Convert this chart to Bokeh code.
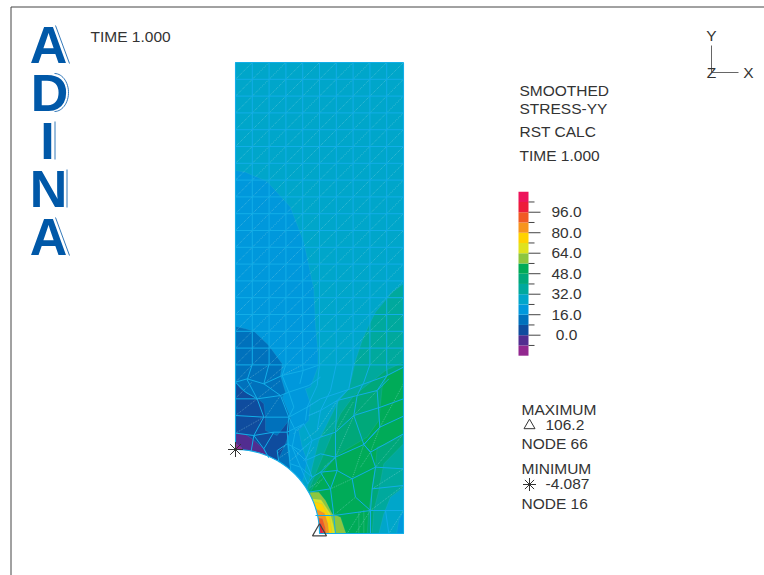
import numpy as np
from bokeh.plotting import figure
from bokeh.models import Range1d
from bokeh.core.properties import value
from bokeh.embed import file_html
from bokeh.resources import INLINE

# ---- colour scale -------------------------------------------------------
band_low = [-16, -8, 0, 8, 16, 24, 32, 40, 48, 56, 64, 72, 80, 88, 96, 104]
band_col = ["#92278F", "#522D90", "#0F4C9E", "#0071BC", "#0098DC", "#00A6CA", "#00A99D", "#00A87A",
            "#00AB58", "#8DC63F", "#DFE21E", "#FFD200", "#F7941E", "#F15A24", "#ED1C3A", "#ED145B"]
tick_major = [96, 80, 64, 48, 32, 16, 0]
tick_labels = ["96.0", "80.0", "64.0", "48.0", "32.0", "16.0", "0.0"]
tick_minor = [104, 88, 72, 56, 40, 24, 8, -8]

# ---- plate geometry in model units --------------------------------------
plate_x = [45, 549, 549, 45]
plate_y = [-774, -774, 639, 639]
hole_x, hole_y, hole_r = 45, 639, 252
grid_x = [45, 95.4, 145.8, 196.2, 246.6, 297, 347.4, 397.8, 448.2, 498.6, 549]
grid_y = [-774, -723.6, -673.2, -622.8, -572.4, -522, -471.6, -421.2, -370.8, -320.4, -270,
          -219.6, -169.2, -118.8, -68.4, -18, 32.4, 82.8, 133.2]

# ---- contour regions, painted in order (band lower value, outline) ------
regions = [
    (32, [(549, -110), (515, -85), (465, -25), (445, 15), (425, 60), (405, 120), (395, 165), (385, 205),
          (355, 240), (320, 310), (295, 360), (285, 400), (275, 440), (260, 505), (250, 650), (549, 650)]),
    (40, [(549, 125), (495, 150), (470, 170), (400, 225), (360, 280), (335, 340), (310, 400), (285, 460),
          (260, 520), (280, 639), (455, 639), (460, 570), (475, 510), (490, 430), (549, 370)]),
    (48, [(549, 140), (500, 165), (485, 200), (475, 300), (440, 350), (355, 400), (320, 440), (290, 480),
          (260, 530), (280, 639), (440, 639), (445, 570), (455, 505), (465, 440), (470, 380), (500, 370),
          (549, 340)]),
    (24, [(549, 500), (510, 530), (490, 580), (475, 639), (549, 639)]),
    (16, [(549, 570), (535, 600), (528, 639), (549, 639)]),
    (16, [(45, -450), (75, -445), (140, -417), (210, -340), (250, -235), (280, -95), (285, 15), (293, 100),
          (292, 140), (270, 200), (255, 205), (270, 250), (265, 300), (235, 330), (245, 380), (260, 420),
          (250, 470), (240, 500), (0, 500), (0, -450)]),
    (8, [(45, 18), (75, 25), (100, 32), (145, 75), (185, 130), (180, 165), (195, 215), (185, 230), (210, 290),
         (205, 330), (200, 370), (210, 445), (0, 445), (0, 18)]),
    (0, [(45, 185), (60, 205), (75, 215), (110, 232), (130, 250), (135, 290), (135, 330), (170, 345), (205, 300),
         (205, 340), (195, 370), (170, 425), (0, 425), (0, 185)]),
    (-8, [(45, 337), (75, 342), (95, 355), (130, 385), (140, 410), (0, 410), (0, 337)]),
    (-16, [(45, 368), (62, 380), (70, 395), (45, 395)]),
    (56, [(270, 515), (295, 515), (315, 540), (335, 580), (360, 590), (375, 635), (378, 639), (280, 639), (260, 540)]),
    (64, [(275, 535), (302, 538), (330, 580), (345, 639), (280, 639)]),
    (72, [(278, 543), (305, 550), (328, 590), (335, 639), (280, 639)]),
    (80, [(285, 565), (312, 578), (322, 610), (325, 639), (285, 639)]),
    (88, [(285, 590), (306, 595), (314, 620), (316, 639), (285, 639)]),
    (96, [(285, 605), (302, 610), (308, 639), (285, 639)]),
    (104, [(285, 620), (296, 622), (302, 639), (285, 639)]),
]

free_mesh = [
    [(549, 140), (500, 165), (390, 205), (300, 235), (260, 260)],
    [(505, 175), (470, 210), (350, 240), (300, 270), (265, 285)],
    [(498, 133), (500, 165), (470, 210), (478, 320), (430, 372)],
    [(448, 133), (430, 185), (410, 225), (400, 285), (430, 372)],
    [(398, 133), (385, 205), (350, 240), (345, 335), (345, 410)],
    [(347, 133), (330, 210), (300, 270), (290, 330)],
    [(297, 133), (290, 195), (260, 260), (255, 300)],
    [(549, 235), (480, 260), (400, 285), (345, 335), (300, 350)],
    [(549, 287), (478, 320), (430, 372), (345, 410), (300, 455)],
    [(549, 340), (450, 395), (430, 372)],
    [(430, 372), (450, 395), (465, 440), (455, 505), (450, 570), (450, 639)],
    [(549, 445), (465, 440), (395, 475), (350, 450), (330, 505), (340, 585), (345, 639)],
    [(549, 495), (455, 505)],
    [(549, 570), (450, 570), (340, 585), (285, 585)],
    [(495, 570), (505, 639)],
    [(395, 475), (405, 530), (450, 570)],
    [(350, 450), (345, 410)],
    [(300, 455), (350, 450)],
    [(300, 455), (330, 505), (265, 515)],
    [(45, 185), (80, 175), (130, 190), (185, 165), (248, 150), (297, 133)],
    [(45, 235), (110, 235), (180, 225), (205, 215), (265, 195), (300, 170)],
    [(45, 285), (130, 290), (205, 290), (260, 260)],
    [(45, 338), (100, 345), (160, 335), (200, 335), (250, 310)],
    [(95, 133), (80, 178), (110, 235), (130, 290), (100, 345), (92, 392)],
    [(145, 133), (130, 190), (180, 225), (205, 290), (200, 335), (210, 445)],
    [(196, 133), (185, 165), (205, 215), (220, 260), (205, 290)],
    [(246, 133), (248, 150), (238, 190)],
    [(45, 185), (75, 215), (110, 235)],
    [(160, 335), (130, 385), (145, 412)],
    [(100, 345), (130, 385)],
    [(205, 290), (225, 330), (215, 380), (240, 440)],
    [(225, 330), (250, 310), (275, 360), (255, 420), (275, 470)],
    [(200, 370), (240, 390), (275, 360), (300, 350)],
    [(215, 380), (255, 420), (300, 400), (345, 410)],
    [(210, 430), (240, 440), (275, 470), (300, 455)],
    [(240, 440), (262, 490), (275, 470)],
    [(170, 390), (200, 370)],
    [(170, 390), (175, 425)],
]
dotted_mesh = [
    [(260, 260), (300, 235)], [(290, 330), (350, 240)], [(345, 335), (398, 245)], [(400, 285), (470, 210)],
    [(478, 320), (549, 190)], [(450, 395), (478, 320)], [(465, 440), (549, 340)], [(455, 505), (549, 445)],
    [(450, 570), (549, 495)], [(505, 639), (549, 570)], [(395, 475), (430, 372)], [(345, 410), (400, 285)],
    [(330, 505), (395, 475)], [(345, 580), (405, 530)], [(405, 639), (450, 570)], [(380, 639), (420, 575)],
    [(415, 639), (415, 575)], [(430, 639), (430, 570)], [(45, 233), (95, 185)], [(45, 285), (110, 235)],
    [(45, 338), (130, 290)], [(95, 133), (45, 185)], [(145, 133), (80, 178)], [(196, 133), (130, 190)],
    [(246, 133), (185, 165)], [(110, 235), (180, 180)], [(135, 290), (180, 225)], [(220, 340), (250, 310)],
    [(230, 400), (265, 370)], [(250, 420), (280, 380)], [(210, 420), (235, 400)], [(285, 500), (310, 470)],
    [(270, 500), (300, 480)], [(300, 350), (345, 300)], [(265, 285), (300, 270)], [(250, 360), (290, 330)],
    [(170, 400), (195, 375)], [(180, 410), (210, 390)], [(310, 440), (345, 410)], [(420, 440), (450, 395)],
]

# ---- page texts ---------------------------------------------------------
logo_letters = ["A", "D", "I", "N", "A"]
logo_x = [48, 49, 47, 48, 48]
logo_y = [44, 92, 140, 188, 236]
left_texts = [("TIME 1.000", 90, 35.5), ("SMOOTHED", 519, 89.5), ("STRESS-YY", 519, 107.5), ("RST CALC", 519, 130.5),
              ("TIME 1.000", 519, 154.5), ("MAXIMUM", 521, 408.5), ("106.2", 545, 424.5), ("NODE 66", 521, 442.5),
              ("MINIMUM", 521, 467.5), ("-4.087", 545, 483.5), ("NODE 16", 521, 502.5)]
ink = "#333333"
blue = "#0058A8"
mesh_col = "#12AEE8"

p = figure(width=764, height=575, output_backend="svg", toolbar_location=None,
           x_range=Range1d(0, 764), y_range=Range1d(575, 0), min_border=0,
           x_axis_type=None, y_axis_type=None, outline_line_color=None,
           margin=(0, 0, 0, 0))
p.grid.visible = False
# model coordinates: 3 units per pixel
p.extra_x_ranges["model"] = Range1d(-660, 1632)
p.extra_y_ranges["model"] = Range1d(765, -960)
# colour-scale values
p.extra_y_ranges["val"] = Range1d((334.7 - 575) / 1.281, 334.7 / 1.281)
M = dict(x_range_name="model", y_range_name="model")

# frame
p.line([10.5, 10.5], [575, 6.5], line_color="#444444", line_width=1)
p.line([10.5, 764], [6.5, 6.5], line_color="#444444", line_width=1)

# plate and contour bands
p.patch(plate_x, plate_y, fill_color=band_col[band_low.index(24)], line_color=None, **M)
for low, pts in regions:
    xs, ys = zip(*pts)
    xs = [min(x, 549) for x in xs]
    xs = [max(x, 45) for x in xs]
    ys = [min(y, 639) for y in ys]
    p.patch(xs, ys, fill_color=band_col[band_low.index(low)], line_color="#45BBD8", line_alpha=0.35,
            line_width=0.5, **M)
p.circle([hole_x], [hole_y], radius=hole_r, fill_color="white", line_color=None, **M)

# dotted diagonals
for i in range(len(grid_x) - 1):
    for j in range(len(grid_y) - 1):
        p.line([grid_x[i], grid_x[i + 1]], [grid_y[j + 1], grid_y[j]], line_color="#A5E0E4", line_alpha=0.55,
               line_dash="1 1", line_width=0.7, **M)
for seg in dotted_mesh:
    xs, ys = zip(*seg)
    p.line(xs, ys, line_color="#A5E0E4", line_alpha=0.55, line_dash="1 1", line_width=0.7, **M)

# regular mesh
for gx in grid_x[:-1]:
    p.line([gx, gx], [-774, 133.2], line_color=mesh_col, line_width=1, **M)
for gy in grid_y:
    p.line([45, 549], [gy, gy], line_color=mesh_col, line_width=1, **M)
# free mesh
for seg in free_mesh:
    xs, ys = zip(*seg)
    p.line(xs, ys, line_color=mesh_col, line_width=1, **M)
p.line([45, 45], [-774, 387], line_color=mesh_col, line_width=1.1, **M)
p.line([549, 549], [-774, 639], line_color=mesh_col, line_width=1.1, **M)
p.line([297, 549], [639, 639], line_color=mesh_col, line_width=1.1, **M)
t = np.linspace(0, np.pi / 2, 60)
p.line(hole_x + hole_r * np.cos(t), hole_y - hole_r * np.sin(t), line_color=mesh_col, line_width=1.1, **M)

# min / max markers
p.scatter([45], [387], marker="asterisk", size=15, line_color="#333333", line_width=1, **M)
p.scatter([297], [634], marker="triangle", size=14, fill_color=None, line_color="#444444", line_width=1.2, **M)

# logo
p.text(logo_x, logo_y, text=logo_letters, text_font=value("Liberation Sans"), text_font_style="bold",
       text_font_size="52px", text_color=blue, text_align="center", text_baseline="middle")
for xs, ys in [([55, 69], [25, 63]), ([54.5, 54.5], [121, 159]), ([66.5, 66.5], [169, 207]),
               ([55, 69], [217, 255])]:
    p.line(xs, ys, line_color=blue, line_width=0.8)
th = np.linspace(-np.pi / 2, np.pi / 2, 30)
p.line(54 + 14 * np.cos(th), 92 + 19 * np.sin(th), line_color=blue, line_width=0.8)

# texts
for s, x, y in left_texts:
    p.text([x], [y], text=[s], text_font=value("Liberation Sans"), text_font_size="15.5px", text_color=ink,
           text_align="left", text_baseline="middle")
p.scatter([529], [425], marker="triangle", size=11, fill_color=None, line_color="#333333", line_width=1)
p.scatter([529], [484], marker="asterisk", size=13, line_color="#333333", line_width=1)

# triad
p.line([711, 711], [45, 72], line_color="#666666", line_width=1)
p.line([711, 738], [72, 72], line_color="#666666", line_width=1)
for s, x, y in [("Y", 711, 35), ("Z", 711, 72), ("X", 748, 72)]:
    p.text([x], [y], text=[s], text_font=value("Liberation Sans"), text_font_size="15.5px", text_color=ink,
           text_align="center", text_baseline="middle")

# colour scale
V = dict(y_range_name="val")
p.quad(left=518, right=528, bottom=band_low, top=[b + 8 for b in band_low], fill_color=band_col,
       line_color=None, **V)
p.segment(x0=[528] * len(tick_major), x1=[540] * len(tick_major), y0=tick_major, y1=tick_major,
          line_color="#444444", line_width=1, **V)
p.segment(x0=[528] * len(tick_minor), x1=[534] * len(tick_minor), y0=tick_minor, y1=tick_minor,
          line_color="#444444", line_width=1, **V)
p.text([566] * len(tick_major), tick_major, text=tick_labels, text_font=value("Liberation Sans"),
       text_font_size="15.5px", text_color=ink, text_align="center", text_baseline="middle", **V)

open("out.html", "w").write(file_html(p, INLINE))
